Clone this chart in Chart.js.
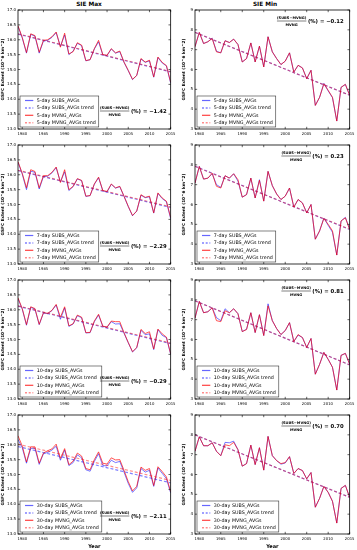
<!DOCTYPE html>
<html><head><meta charset="utf-8">
<script src="https://cdn.jsdelivr.net/npm/chart.js@4/dist/chart.umd.min.js"></script>
<style>
html,body{margin:0;padding:0;background:#fff;width:357px;height:550px;overflow:hidden;position:relative;font-family:"DejaVu Sans",sans-serif}
canvas{position:absolute}
.t{position:absolute;font:bold 5.8px "DejaVu Sans",sans-serif;transform:translateX(-50%);white-space:nowrap;line-height:7px}
</style></head><body>
<div class="t" style="left:89px;top:1px">SIE Max</div>
<div class="t" style="left:265px;top:1px">SIE Min</div>
<script>
// ---------- DATA ----------
const years = [1979,1980,1981,1982,1983,1984,1985,1986,1987,1988,1989,1990,1991,1992,1993,1994,1995,1996,1997,1998,1999,2000,2001,2002,2003,2004,2005,2006,2007,2008,2009,2010,2011,2012,2013,2014,2015];
const xTicks = [1980,1985,1990,1995,2000,2005,2010,2015];
const maxYTicks = [13.0,13.5,14.0,14.5,15.0,15.5,16.0,16.5,17.0];
const minYTicks = [3,4,5,6,7,8,9];
const windows = ['5-day','7-day','10-day','30-day'];
const pctMax = ['\u22121.42','\u22122.29','\u22120.29','\u22122.11'];
const pctMin = ['\u22120.12','0.23','0.81','0.70'];

// SIE Max (10^6 km^2)
const maxMv5  = [16.47,16.08,15.57,16.20,16.14,15.58,15.98,16.00,16.10,16.26,15.75,16.22,15.52,15.60,15.90,15.82,15.30,15.33,15.70,15.98,15.50,15.48,15.70,15.56,15.62,15.25,14.97,14.67,14.80,15.37,15.25,15.31,14.75,15.42,15.24,15.13,14.57];
const maxSb5  = [16.45,16.06,15.55,16.18,16.12,15.55,15.96,15.98,16.08,16.24,15.78,16.16,15.50,15.62,15.88,15.80,15.29,15.33,15.69,15.93,15.49,15.47,15.69,15.55,15.60,15.24,14.96,14.66,14.80,15.35,15.24,15.29,14.74,15.40,15.22,15.12,14.54];
const maxMv7  = [16.44,16.05,15.56,16.17,16.11,15.56,15.97,15.97,16.08,16.26,15.74,16.17,15.50,15.61,15.87,15.81,15.28,15.30,15.69,15.92,15.47,15.44,15.69,15.56,15.61,15.28,14.94,14.63,14.78,15.33,15.24,15.28,14.72,15.39,15.22,15.11,14.56];
const maxSb7  = [16.42,16.02,15.50,16.12,16.08,15.52,15.94,15.95,16.06,16.24,15.76,16.10,15.47,15.60,15.86,15.80,15.27,15.30,15.68,15.90,15.46,15.42,15.68,15.55,15.60,15.27,14.93,14.62,14.78,15.31,15.23,15.26,14.71,15.37,15.20,15.09,14.52];
const maxMv10 = [16.40,16.04,15.50,16.10,16.04,15.51,15.90,15.88,15.98,16.18,15.75,16.10,15.46,15.53,15.82,15.75,15.23,15.24,15.62,15.85,15.45,15.42,15.62,15.60,15.60,15.23,14.90,14.59,14.73,15.34,15.20,15.26,14.68,15.35,15.19,15.08,14.52];
const maxSb10 = [16.37,16.02,15.48,16.08,16.02,15.50,15.89,15.87,15.97,16.16,15.68,16.06,15.44,15.52,15.80,15.73,15.22,15.23,15.60,15.82,15.44,15.41,15.60,15.52,15.53,15.21,14.89,14.58,14.72,15.31,15.16,15.19,14.66,15.33,15.14,15.06,14.50];
const maxMv30 = [16.30,15.96,15.42,15.93,15.93,15.38,15.72,15.80,15.86,16.02,15.54,15.87,15.33,15.45,15.72,15.62,15.20,15.16,15.50,15.76,15.38,15.35,15.56,15.49,15.50,15.14,14.76,14.45,14.60,15.25,15.14,15.20,14.63,15.26,15.10,14.92,14.42];
const maxSb30 = [16.18,15.90,15.38,15.88,15.88,15.34,15.70,15.74,15.82,15.95,15.48,15.82,15.30,15.40,15.66,15.56,15.16,15.11,15.44,15.70,15.30,15.29,15.48,15.40,15.44,15.08,14.70,14.40,14.55,15.20,15.08,15.14,14.60,15.22,15.04,14.86,14.38];
// trend end points [1979, 2015]
const maxTrMv = [[16.20,14.93],[16.15,14.92],[16.13,14.88],[16.02,14.80]];
const maxTrSb = [[16.19,14.92],[16.14,14.90],[16.12,14.86],[15.94,14.72]];

// SIE Min (10^6 km^2)
const minMv5  = [7.15,7.87,7.31,7.40,7.56,6.89,6.84,7.45,7.36,7.53,7.26,6.38,6.55,7.34,6.38,7.18,6.13,7.65,6.89,6.55,6.25,6.42,6.84,5.87,6.21,6.08,5.54,5.96,4.19,4.60,5.28,4.95,4.60,3.40,5.10,5.25,4.70];
const minSb5  = [7.15,7.87,7.31,7.40,7.58,6.92,6.84,7.45,7.36,7.53,7.26,6.38,6.55,7.34,6.38,7.18,6.13,7.65,6.89,6.55,6.25,6.42,6.84,5.87,6.21,6.08,5.54,5.96,4.19,4.60,5.30,4.92,4.58,3.40,5.10,5.25,4.70];
const minMv7  = [7.08,7.92,7.28,7.33,7.58,6.92,6.83,7.45,7.33,7.55,7.25,6.37,6.50,7.33,6.33,7.22,6.17,7.67,6.95,6.53,6.25,6.42,6.83,5.87,6.25,6.08,5.58,6.00,4.25,4.67,5.30,5.00,4.67,3.45,5.17,5.33,4.75];
const minSb7  = [7.08,7.92,7.28,7.33,7.55,7.00,6.86,7.45,7.33,7.55,7.18,6.37,6.50,7.33,6.33,7.25,6.17,7.67,6.95,6.53,6.25,6.42,6.83,5.87,6.25,6.08,5.58,6.00,4.25,4.67,5.32,4.95,4.60,3.45,5.17,5.35,4.75];
const minMv10 = [7.08,7.92,7.35,7.40,7.60,6.95,6.90,7.45,7.35,7.55,7.30,6.40,6.50,7.35,6.35,7.25,6.20,7.70,6.95,6.55,6.25,6.45,6.85,5.90,6.25,6.10,5.60,6.05,4.25,4.75,5.35,5.00,4.60,3.45,5.20,5.30,4.75];
const minSb10 = [7.08,7.92,7.35,7.40,7.60,7.10,6.95,7.55,7.35,7.55,7.30,6.40,6.52,7.35,6.35,7.25,6.20,7.80,6.95,6.55,6.25,6.45,6.85,5.90,6.22,6.10,5.60,6.05,4.25,4.75,5.35,5.00,4.60,3.45,5.20,5.30,4.75];
const minMv30 = [7.17,7.90,7.45,7.45,7.60,7.17,6.95,7.50,7.45,7.62,7.25,6.42,6.55,7.48,6.50,7.35,6.22,7.92,6.95,6.70,6.55,6.60,6.90,6.05,6.30,6.20,5.78,6.10,4.35,4.80,5.40,5.10,4.65,3.55,5.30,5.45,4.85];
const minSb30 = [7.17,7.90,7.45,7.45,7.60,7.17,6.95,7.62,7.60,7.68,7.25,6.42,6.55,7.48,6.50,7.35,6.22,7.92,6.95,6.70,6.52,6.58,6.90,6.05,6.30,6.20,5.78,6.10,4.35,4.80,5.40,5.10,4.65,3.55,5.30,5.45,4.85];
const minTrMv = [[7.87,4.70],[7.92,4.75],[7.95,4.72],[8.00,4.85]];
const minTrSb = [[7.87,4.70],[7.93,4.74],[7.95,4.72],[8.00,4.85]];

// ---------- RENDER ----------
const FONT = '"DejaVu Sans", sans-serif';
Chart.defaults.font.family = FONT;
const RED = 'rgba(255,0,0,0.75)', BLUE = 'rgba(0,0,255,0.6)';
const RED_T = 'rgba(255,0,0,0.45)', BLUE_T = 'rgba(0,0,255,0.5)';

function pts(a){ return years.map((y,i)=>({x:y,y:a[i]})); }
function trend(t){ return [{x:years[0],y:t[0]},{x:years[years.length-1],y:t[1]}]; }

function makeFrame(p){
  return {id:'frame', afterDraw(chart){
    const ctx = chart.ctx, ca = chart.chartArea, xs = chart.scales.x, ys = chart.scales.y;
    ctx.save();
    ctx.strokeStyle = '#000'; ctx.lineWidth = 0.8;
    ctx.strokeRect(ca.left, ca.top, ca.right-ca.left, ca.bottom-ca.top);
    ctx.lineWidth = 0.6; ctx.beginPath();
    xTicks.forEach(v=>{ const px = xs.getPixelForValue(v);
      ctx.moveTo(px, ca.bottom); ctx.lineTo(px, ca.bottom-2.2);
      ctx.moveTo(px, ca.top); ctx.lineTo(px, ca.top+2.2); });
    p.yTicks.forEach(v=>{ const py = ys.getPixelForValue(v);
      ctx.moveTo(ca.left, py); ctx.lineTo(ca.left+2.2, py);
      ctx.moveTo(ca.right, py); ctx.lineTo(ca.right-2.2, py); });
    ctx.stroke();

    // legend
    const w = p.win;
    const labels = [w+' SUBS_AVGs', w+' SUBS_AVGs trend', w+' MVNG_AVGs', w+' MVNG_AVGs trend'];
    const styles = [[BLUE,false],[BLUE_T,true],[RED,false],[RED_T,true]];
    ctx.font = '4.8px ' + FONT;
    const tw = Math.max(...labels.map(l=>ctx.measureText(l).width));
    const bx = ca.left+2, by = ca.bottom-33, bw = 16.7+tw+3, bh = 31;
    ctx.fillStyle = '#fff'; ctx.fillRect(bx,by,bw,bh);
    ctx.strokeStyle = '#333'; ctx.lineWidth = 0.6; ctx.strokeRect(bx,by,bw,bh);
    labels.forEach((l,i)=>{
      const yy = by+4.5+i*7.4;
      ctx.strokeStyle = styles[i][0]; ctx.lineWidth = styles[i][1]?1.5:1.2;
      ctx.setLineDash(styles[i][1]?[2,1.7]:[]);
      ctx.beginPath(); ctx.moveTo(bx+5,yy); ctx.lineTo(bx+13.3,yy); ctx.stroke();
      ctx.setLineDash([]);
      ctx.fillStyle = '#000'; ctx.textBaseline = 'middle'; ctx.textAlign = 'left';
      ctx.fillText(l, bx+16.7, yy+0.3);
    });

    // annotation
    const ax = p.isMax ? ca.right-4 : ca.right-6;
    const ay = p.isMax ? ca.top+101 : ca.top+11;
    ctx.fillStyle = '#000'; ctx.textBaseline = 'middle';
    ctx.font = 'bold 5.3px ' + FONT; ctx.textAlign = 'right';
    const rhs = '(%) = ' + p.pct;
    ctx.fillText(rhs, ax, ay+0.7);
    const rw = ctx.measureText(rhs).width;
    ctx.font = 'bold 3.6px ' + FONT;
    const num = '(SUBS\u2212MVNG)';
    const nw = ctx.measureText(num).width;
    const cx = ax - rw - 1.5 - nw/2;
    ctx.textAlign = 'center';
    ctx.fillText(num, cx, ay-3.3);
    ctx.fillText('MVNG', cx, ay+3.8);
    ctx.strokeStyle = '#000'; ctx.lineWidth = 0.5;
    ctx.beginPath(); ctx.moveTo(cx-nw/2, ay); ctx.lineTo(cx+nw/2, ay); ctx.stroke();
    ctx.restore();
  }};
}

function makePanel(p){
  const last = p.row === 3;
  const left = p.isMax ? 0 : 178, w = p.isMax ? 178 : 179;
  const top = p.row*135, h = last ? 145 : 140;
  const plotH = 119;
  const padL = p.isMax ? 0 : 3, padR = p.isMax ? 3 : 6, yw = p.isMax ? 18 : 14;
  const c = document.createElement('canvas');
  c.width = w; c.height = h;
  c.style.left = left+'px'; c.style.top = top+'px';
  c.style.width = w+'px'; c.style.height = h+'px';
  document.body.appendChild(c);
  new Chart(c, {
    type:'line',
    data:{datasets:[
      {label:'mvt', data:trend(p.tmv), borderColor:RED_T, borderWidth:1.2, borderDash:[3,2], pointRadius:0, order:0},
      {label:'mv', data:pts(p.mv), borderColor:RED, borderWidth:0.9, pointRadius:0, order:1},
      {label:'sbt', data:trend(p.tsb), borderColor:BLUE_T, borderWidth:1.2, borderDash:[3,2], pointRadius:0, order:2},
      {label:'sb', data:pts(p.sb), borderColor:BLUE, borderWidth:0.9, pointRadius:0, order:3}
    ]},
    options:{
      responsive:false, animation:false, devicePixelRatio:1,
      layout:{padding:{top:10,left:padL,right:padR,bottom:0}},
      plugins:{legend:{display:false}, tooltip:{enabled:false}, title:{display:false}},
      scales:{
        x:{type:'linear', min:1979, max:2015,
          afterBuildTicks:s=>{ s.ticks = xTicks.map(v=>({value:v})); },
          afterFit:s=>{ s.height = h-10-plotH; },
          grid:{display:false, drawTicks:false}, border:{display:false},
          ticks:{font:{size:3.8}, color:'#000', padding:2.5, maxRotation:0, minRotation:0, autoSkip:false, callback:v=>String(v)},
          title:{display:last, text:'Year', font:{size:5, weight:'bold'}, color:'#000', padding:{top:0,bottom:0.5}}},
        y:{type:'linear', min:p.yTicks[0], max:p.yTicks[p.yTicks.length-1],
          afterBuildTicks:s=>{ s.ticks = p.yTicks.map(v=>({value:v})); },
          afterFit:s=>{ s.width = yw; },
          grid:{display:false, drawTicks:false}, border:{display:false},
          ticks:{font:{size:4}, color:'#000', padding:2, autoSkip:false, callback:v=>p.isMax ? Number(v).toFixed(1) : String(v)},
          title:{display:true, text:'GSFC Extent (10^6 km^2)', font:{size:4.2, weight:'bold'}, color:'#000', padding:{top:0,bottom:0}}}
      }
    },
    plugins:[makeFrame(p)]
  });
}

const maxMv = [maxMv5,maxMv7,maxMv10,maxMv30], maxSb = [maxSb5,maxSb7,maxSb10,maxSb30];
const minMv = [minMv5,minMv7,minMv10,minMv30], minSb = [minSb5,minSb7,minSb10,minSb30];
for (let r=0; r<4; r++){
  makePanel({row:r, isMax:true, win:windows[r], mv:maxMv[r], sb:maxSb[r], tmv:maxTrMv[r], tsb:maxTrSb[r], pct:pctMax[r], yTicks:maxYTicks});
  makePanel({row:r, isMax:false, win:windows[r], mv:minMv[r], sb:minSb[r], tmv:minTrMv[r], tsb:minTrSb[r], pct:pctMin[r], yTicks:minYTicks});
}
</script>
</body></html>
